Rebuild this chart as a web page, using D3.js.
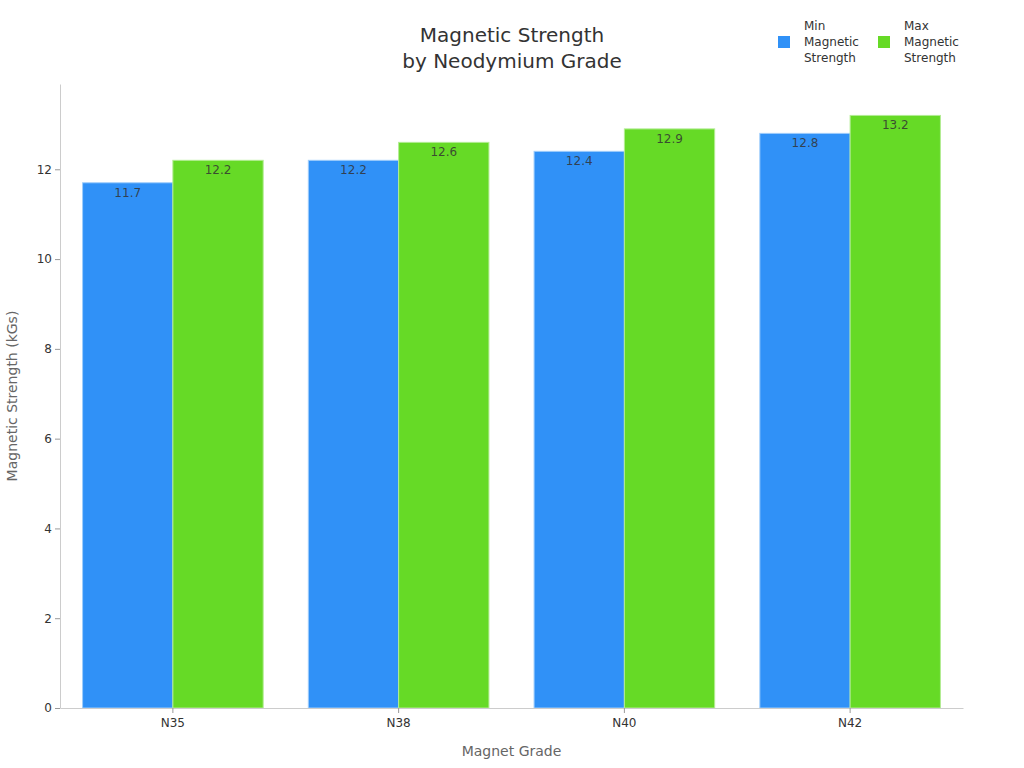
<!DOCTYPE html>
<html>
<head>
<meta charset="utf-8">
<script src="https://cdn.jsdelivr.net/npm/d3@7"></script>
<style>
  body { margin: 0; background: #fff; }
  svg { font-family: "DejaVu Sans", sans-serif; }
</style>
</head>
<body>
<svg id="chart_svg" width="1024" height="768"></svg>
<script>
// chart data
const grades = ["N35", "N38", "N40", "N42"];
const minStrength = [11.7, 12.2, 12.4, 12.8];
const maxStrength = [12.2, 12.6, 12.9, 13.2];
const seriesNames = ["Min Magnetic Strength", "Max Magnetic Strength"];
const seriesColors = ["#3091f7", "#66da26"];
const yTicks = [0, 2, 4, 6, 8, 10, 12];

const svg = d3.select("#chart_svg");
const margin = { top: 84, bottom: 60, left: 60, right: 61 };
const width = 1024, height = 768;

const x0 = d3.scaleBand()
  .domain(grades)
  .range([margin.left, width - margin.right])
  .paddingInner(0.2)
  .paddingOuter(0.1);

const x1 = d3.scaleBand()
  .domain([0, 1])
  .range([0, x0.bandwidth()]);

const y = d3.scaleLinear()
  .domain([0, 13.9])
  .range([height - margin.bottom, margin.top]);

// bars
const rows = grades.map((g, i) => ({ grade: g, vals: [minStrength[i], maxStrength[i]] }));

const groups = svg.append("g").selectAll("g")
  .data(rows)
  .enter()
  .append("g")
  .attr("transform", d => "translate(" + x0(d.grade) + ",0)");

groups.selectAll("rect")
  .data(d => d.vals.map((v, k) => ({ k: k, v: v })))
  .enter()
  .append("rect")
  .attr("x", d => x1(d.k))
  .attr("y", d => y(d.v))
  .attr("width", x1.bandwidth())
  .attr("height", d => y(0) - y(d.v))
  .attr("fill", d => seriesColors[d.k])
  .attr("stroke", d => d.k == 0 ? "#9fcdfb" : "#b3ec93")
  .attr("stroke-width", 1);

groups.selectAll("text")
  .data(d => d.vals.map((v, k) => ({ k: k, v: v })))
  .enter()
  .append("text")
  .attr("x", d => x1(d.k) + x1.bandwidth() / 2)
  .attr("y", d => y(d.v) + 14)
  .attr("text-anchor", "middle")
  .attr("font-size", 12)
  .attr("fill", "#333")
  .attr("fill-opacity", 0.85)
  .text(d => d.v.toFixed(1));

// axes
const xAxis = svg.append("g")
  .attr("transform", "translate(0," + y(0) + ")")
  .call(d3.axisBottom(x0).tickSize(5).tickSizeOuter(0));
xAxis.select(".domain").attr("stroke", "#ccc");
xAxis.selectAll(".tick line").attr("stroke", "#999");
xAxis.selectAll(".tick text").attr("font-size", 12).attr("fill", "#333")
  .attr("font-family", "DejaVu Sans, sans-serif").attr("dy", "0.95em");

const yAxis = svg.append("g")
  .attr("transform", "translate(" + margin.left + ",0)")
  .call(d3.axisLeft(y).tickValues(yTicks).tickSize(5).tickSizeOuter(0));
yAxis.select(".domain").attr("stroke", "#ccc");
yAxis.selectAll(".tick line").attr("stroke", "#999");
yAxis.selectAll(".tick text").attr("font-size", 12).attr("fill", "#333")
  .attr("font-family", "DejaVu Sans, sans-serif");

// labels
svg.append("text")
  .attr("x", (margin.left + width - margin.right) / 2)
  .attr("y", 756)
  .attr("text-anchor", "middle")
  .attr("font-size", 14)
  .attr("fill", "#666")
  .text("Magnet Grade");

svg.append("text")
  .attr("transform", "rotate(-90)")
  .attr("x", -(margin.top + height - margin.bottom) / 2)
  .attr("y", 17)
  .attr("text-anchor", "middle")
  .attr("font-size", 14)
  .attr("fill", "#666")
  .text("Magnetic Strength (kGs)");

const title = svg.append("text")
  .attr("text-anchor", "middle")
  .attr("font-size", 20)
  .attr("fill", "#333");
title.append("tspan").attr("x", 512).attr("y", 42).text("Magnetic Strength");
title.append("tspan").attr("x", 512).attr("y", 68).text("by Neodymium Grade");

// legend
const legend = svg.append("g").selectAll("g")
  .data(seriesNames)
  .enter()
  .append("g")
  .attr("transform", (d, i) => "translate(" + (778 + i * 100) + ",0)");

legend.append("rect")
  .attr("x", 0)
  .attr("y", 36)
  .attr("width", 12)
  .attr("height", 12)
  .attr("fill", (d, i) => seriesColors[i]);

legend.append("text")
  .attr("font-size", 12)
  .attr("fill", "#333")
  .selectAll("tspan")
  .data(d => d.split(" "))
  .enter()
  .append("tspan")
  .attr("x", 26)
  .attr("y", (d, j) => 30 + j * 16)
  .text(d => d);
</script>
</body>
</html>
